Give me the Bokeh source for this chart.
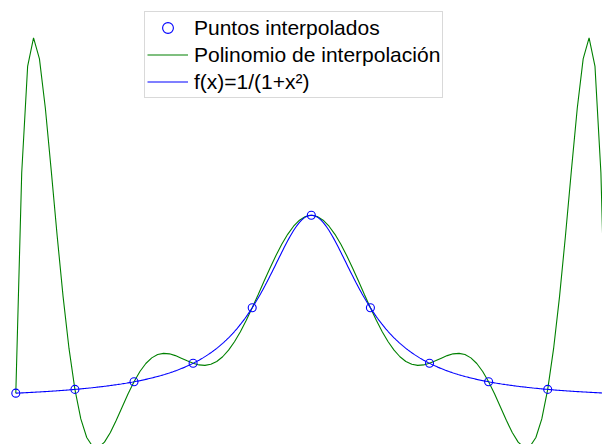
import numpy as np
from bokeh.plotting import figure
from bokeh.models import Range1d, Legend, LegendItem, ColumnDataSource
from bokeh.embed import file_html
from bokeh.resources import INLINE

# Interpolation nodes
x_nodes = [-5, -4, -3, -2, -1, 0, 1, 2, 3, 4, 5]
y_nodes = [0.0385, 0.0588, 0.1, 0.2, 0.5, 1.0, 0.5, 0.2, 0.1, 0.0588, 0.0385]

# Sample grids for the curves
x_poly = np.round(np.arange(-5.0, 5.0001, 0.1), 10)
x_func = np.arange(-5.0, 5.0001, 0.02)

legend_labels = ["Puntos interpolados", "Polinomio de interpolación", "f(x)=1/(1+x²)"]


def lagrange(xn, yn, xs):
    xn = np.asarray(xn, float)
    yn = np.asarray(yn, float)
    out = np.zeros_like(xs, dtype=float)
    for i in range(len(xn)):
        li = np.ones_like(xs, dtype=float)
        for j in range(len(xn)):
            if j != i:
                li *= (xs - xn[j]) / (xn[i] - xn[j])
        out += yn[i] * li
    return out


y_poly = lagrange(x_nodes, y_nodes, x_poly)
y_func = 1.0 / (1.0 + x_func ** 2)

p = figure(width=602, height=444, output_backend="svg", toolbar_location=None,
           x_range=Range1d(-5.259, 4.927), y_range=Range1d(-0.239, 2.161),
           min_border=0, min_border_left=0, min_border_right=0,
           min_border_top=0, min_border_bottom=0)
p.xaxis.visible = False
p.yaxis.visible = False
p.grid.visible = False
p.outline_line_color = None
p.background_fill_color = "white"
p.border_fill_color = "white"

src_nodes = ColumnDataSource(dict(x=x_nodes, y=y_nodes))
r_green = p.line(x_poly, y_poly, line_color="#008000", line_width=1.1)
r_blue = p.line(x_func, y_func, line_color="#0000ff", line_width=1.1)
r_pts = p.scatter("x", "y", source=src_nodes, marker="circle", size=8,
                  fill_color=None, line_color="#0000ff", line_width=1.1)

legend = Legend(items=[
    LegendItem(label=legend_labels[0], renderers=[r_pts]),
    LegendItem(label=legend_labels[1], renderers=[r_green]),
    LegendItem(label=legend_labels[2], renderers=[r_blue]),
], location=(144, 346))
legend.label_text_font = "Liberation Sans"
legend.label_text_font_size = "21px"
legend.label_text_color = "black"
legend.glyph_width = 41
legend.glyph_height = 27
legend.label_height = 27
legend.label_standoff = 6
legend.spacing = 0
legend.padding = 2
legend.margin = 0
legend.border_line_color = "#b4b4b4"
legend.border_line_width = 1.5
legend.background_fill_alpha = 1.0
p.add_layout(legend, "center")

open("out.html", "w").write(file_html(p, INLINE))
